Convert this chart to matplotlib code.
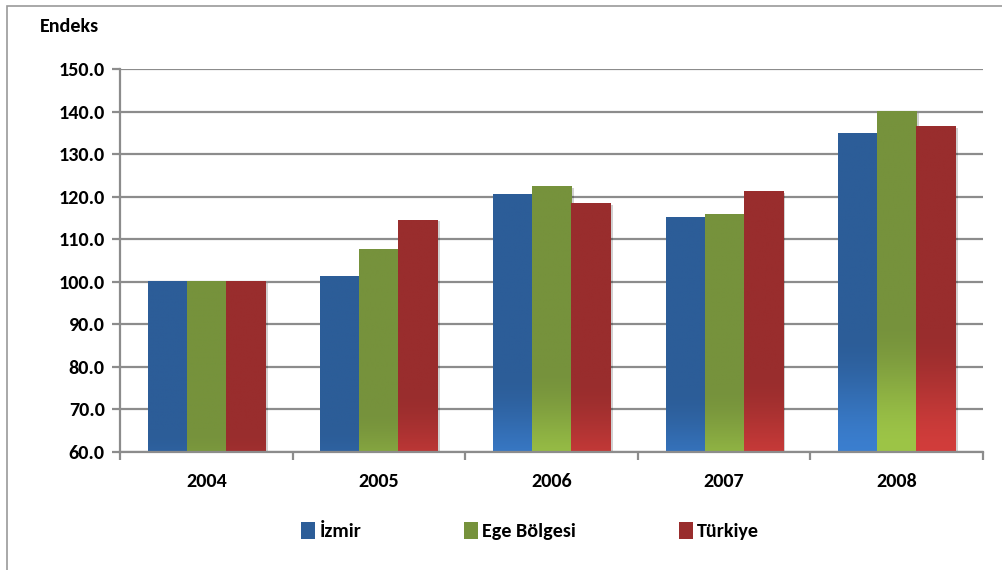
import matplotlib
matplotlib.use('Agg')

import matplotlib.pyplot as plt
import matplotlib.patches as mpatches
import matplotlib.patheffects as pe
from matplotlib.colors import to_rgb
import numpy as np

plt.rcParams['font.family'] = ['Carlito', 'Lato', 'DejaVu Sans']
plt.rcParams['font.weight'] = 'bold'

years = ['2004', '2005', '2006', '2007', '2008']
series = ['İzmir', 'Ege Bölgesi', 'Türkiye']
izmir = [100.0, 101.2, 120.4, 115.0, 134.8]
ege = [100.0, 107.7, 122.3, 115.9, 140.0]
turkiye = [100.0, 114.5, 118.3, 121.3, 136.5]

# dark / light colour pairs (Excel style gradient)
dark = ['#2C5D98', '#76923C', '#992D2D']
light = ['#3B7FD0', '#9DC547', '#D23D3B']

ymin, ymax = 60, 150
fs = 14.5

fig = plt.figure(figsize=[10.03, 5.70], dpi=100)
ax = fig.add_axes([120/1003., 118/570., 863/1003., 383/570.])

x = np.arange(len(years))
w = 0.226
grid_c = '#8C8C8C'

for i, vals in enumerate([izmir, ege, turkiye]):
    pos = x + (i - 1) * w
    bars = ax.bar(pos, np.array(vals) - ymin, bottom=ymin, width=w,
                  color=dark[i], zorder=2, label=series[i])
    for b, v in zip(bars, vals):
        b.set_path_effects([pe.SimplePatchShadow(offset=(2, -1), alpha=0.18,
                                                 shadow_rgbFace='k'),
                            pe.Normal()])
        # vertical gradient: light near the axis, dark above ~63% of value
        ys = np.linspace(ymin, v, 200)
        t = np.clip((ys - 0.43 * v) / (0.22 * v), 0, 1)
        t = t * t * (3 - 2 * t)
        c0, c1 = np.array(to_rgb(light[i])), np.array(to_rgb(dark[i]))
        img = c0[None, :] * (1 - t[:, None]) + c1[None, :] * t[:, None]
        x0 = b.get_x()
        ax.imshow(img[:, None, :], extent=(x0, x0 + w, ymin, v), origin='lower',
                  aspect='auto', interpolation='bilinear', zorder=2.5)

ax.set_xlim(-0.5, len(years) - 0.5)
ax.set_ylim(ymin, ymax)
ax.set_yticks(np.arange(60, 151, 10))
ax.set_yticklabels(['%.1f' % v for v in np.arange(60, 151, 10)],
                   fontweight='bold', fontsize=fs)
ax.set_xticks(x)
ax.set_xticklabels(years, fontweight='bold', fontsize=fs)
ax.set_xticks(np.arange(-0.5, len(years), 1), minor=True)

ax.yaxis.grid(True, color=grid_c, linewidth=1.6)
ax.set_axisbelow(True)
for s in ['top', 'right']:
    ax.spines[s].set_visible(False)
for s in ['left', 'bottom']:
    ax.spines[s].set_color(grid_c)
    ax.spines[s].set_linewidth(1.6)

ax.tick_params(axis='y', length=6, color=grid_c, width=1.6, pad=5)
ax.tick_params(axis='x', which='major', length=0, pad=15)
ax.tick_params(axis='x', which='minor', length=6, color=grid_c, width=1.6)

fig.text(40/1003., 1 - 27/570., 'Endeks', fontsize=fs, fontweight='bold',
         va='center', ha='left')

handles = [mpatches.Patch(facecolor=dark[i], label=series[i]) for i in range(3)]
fig.legend(handles=handles, loc='center', bbox_to_anchor=(530/1003., 1 - 531/570.),
           ncol=3, frameon=False, prop={'size': fs, 'weight': 'bold'},
           handlelength=0.7, handleheight=0.9, handletextpad=0.2,
           columnspacing=5.1)

# chart border
fig.add_artist(mpatches.Rectangle((7/1003., -0.1), 1.2, 1.1 - 6/570.,
                                  transform=fig.transFigure, fill=False,
                                  edgecolor='#9A9A9A', linewidth=1.2))

fig.savefig('out.png', dpi=100)
